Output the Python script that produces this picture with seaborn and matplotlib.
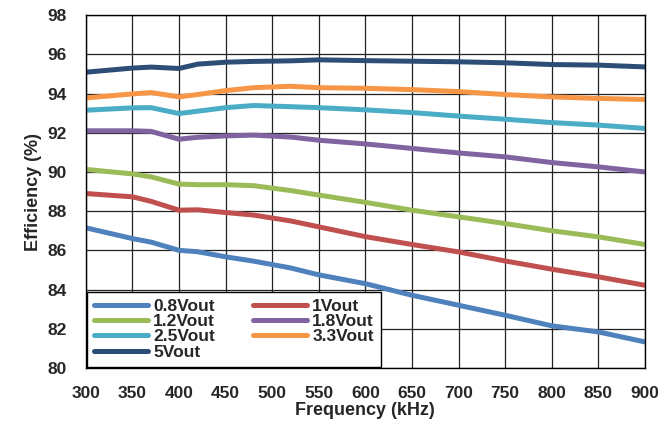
import matplotlib
matplotlib.use("Agg")
import matplotlib.pyplot as plt
import pandas as pd
import seaborn as sns

FREQ = [300, 350, 370, 400, 420, 450, 480, 520, 550, 600, 650, 700, 750, 800, 850, 900]

EFF_0V8 = [87.15, 86.6, 86.42, 86.0, 85.93, 85.67, 85.45, 85.1, 84.75, 84.3, 83.71, 83.2, 82.69, 82.15, 81.84, 81.33]
EFF_1V0 = [88.9, 88.73, 88.5, 88.05, 88.07, 87.93, 87.8, 87.5, 87.2, 86.7, 86.3, 85.92, 85.46, 85.04, 84.65, 84.22]
EFF_1V2 = [90.13, 89.9, 89.75, 89.38, 89.35, 89.35, 89.3, 89.05, 88.82, 88.45, 88.05, 87.71, 87.37, 87.0, 86.69, 86.3]
EFF_1V8 = [92.1, 92.1, 92.07, 91.67, 91.77, 91.84, 91.88, 91.78, 91.62, 91.43, 91.2, 90.97, 90.77, 90.48, 90.26, 90.0]
EFF_2V5 = [93.15, 93.27, 93.28, 92.98, 93.1, 93.28, 93.39, 93.33, 93.28, 93.17, 93.03, 92.85, 92.69, 92.52, 92.39, 92.22]
EFF_3V3 = [93.78, 93.98, 94.05, 93.83, 93.95, 94.15, 94.3, 94.37, 94.3, 94.27, 94.2, 94.1, 93.95, 93.83, 93.75, 93.7]
EFF_5V0 = [95.09, 95.3, 95.35, 95.28, 95.5, 95.6, 95.64, 95.67, 95.72, 95.68, 95.65, 95.62, 95.57, 95.48, 95.45, 95.36]

SERIES = ["0.8Vout", "1Vout", "1.2Vout", "1.8Vout", "2.5Vout", "3.3Vout", "5Vout"]
COLORS = ["#4F81BD", "#C0504D", "#9BBB59", "#8064A2", "#4BACC6", "#F79646", "#2C4D75"]

X_TICKS = list(range(300, 901, 50))
Y_TICKS = list(range(80, 99, 2))

# legend is filled row by row in the original, matplotlib fills by column
LEGEND_ORDER = [0, 2, 4, 6, 1, 3, 5]


def make_df():
    rows = []
    for name, vals in zip(SERIES, [EFF_0V8, EFF_1V0, EFF_1V2, EFF_1V8, EFF_2V5, EFF_3V3, EFF_5V0]):
        for f, v in zip(FREQ, vals):
            rows.append([f, v, name])
    return pd.DataFrame(rows, columns=["Frequency", "Efficiency", "Vout"])


sns.set_style("white")
plt.rcParams['font.family'] = ['Liberation Sans', 'DejaVu Sans']
plt.rcParams['font.weight'] = 'bold'

df = make_df()

fig = plt.figure(figsize=(6.71, 4.21), dpi=100)
ax = fig.add_axes([0.128, 0.126, 0.833, 0.838])

sns.lineplot(data=df, x="Frequency", y="Efficiency", hue="Vout", hue_order=SERIES,
             palette=COLORS, linewidth=3.6, ax=ax, legend=True)

ax.set_xlim(300, 900)
ax.set_ylim(80, 98)
ax.set_xticks(X_TICKS)
ax.set_yticks(Y_TICKS)
ax.grid(True, color="#222222", linewidth=0.9)
ax.set_axisbelow(True)
for s in ax.spines.values():
    s.set_color("black")
    s.set_linewidth(1.0)
ax.tick_params(axis="both", labelsize=12.5, direction="in", length=4, color="black")
ax.tick_params(axis="x", pad=13)
ax.tick_params(axis="y", pad=14)
for lab in ax.get_xticklabels() + ax.get_yticklabels():
    lab.set_fontweight("bold")

ax.set_xlabel("Frequency (kHz)", fontsize=13, fontweight="bold", labelpad=1)
ax.set_ylabel("Efficiency (%)", fontsize=13, fontweight="bold", labelpad=4)

handles, labels = ax.get_legend_handles_labels()
handles = [handles[i] for i in LEGEND_ORDER]
labels = [labels[i] for i in LEGEND_ORDER]
leg = ax.legend(handles, labels, ncol=2, loc="lower left", bbox_to_anchor=(0.0, 0.0),
                frameon=True, fancybox=False, edgecolor="black", framealpha=1,
                fontsize=12.5, handlelength=3.1, handletextpad=0.3, labelspacing=0.0,
                columnspacing=2.2, borderpad=0.4, borderaxespad=0.08)
leg.get_frame().set_linewidth(1.0)
for t in leg.get_texts():
    t.set_fontweight("bold")

plt.savefig("out.png", dpi=100)
